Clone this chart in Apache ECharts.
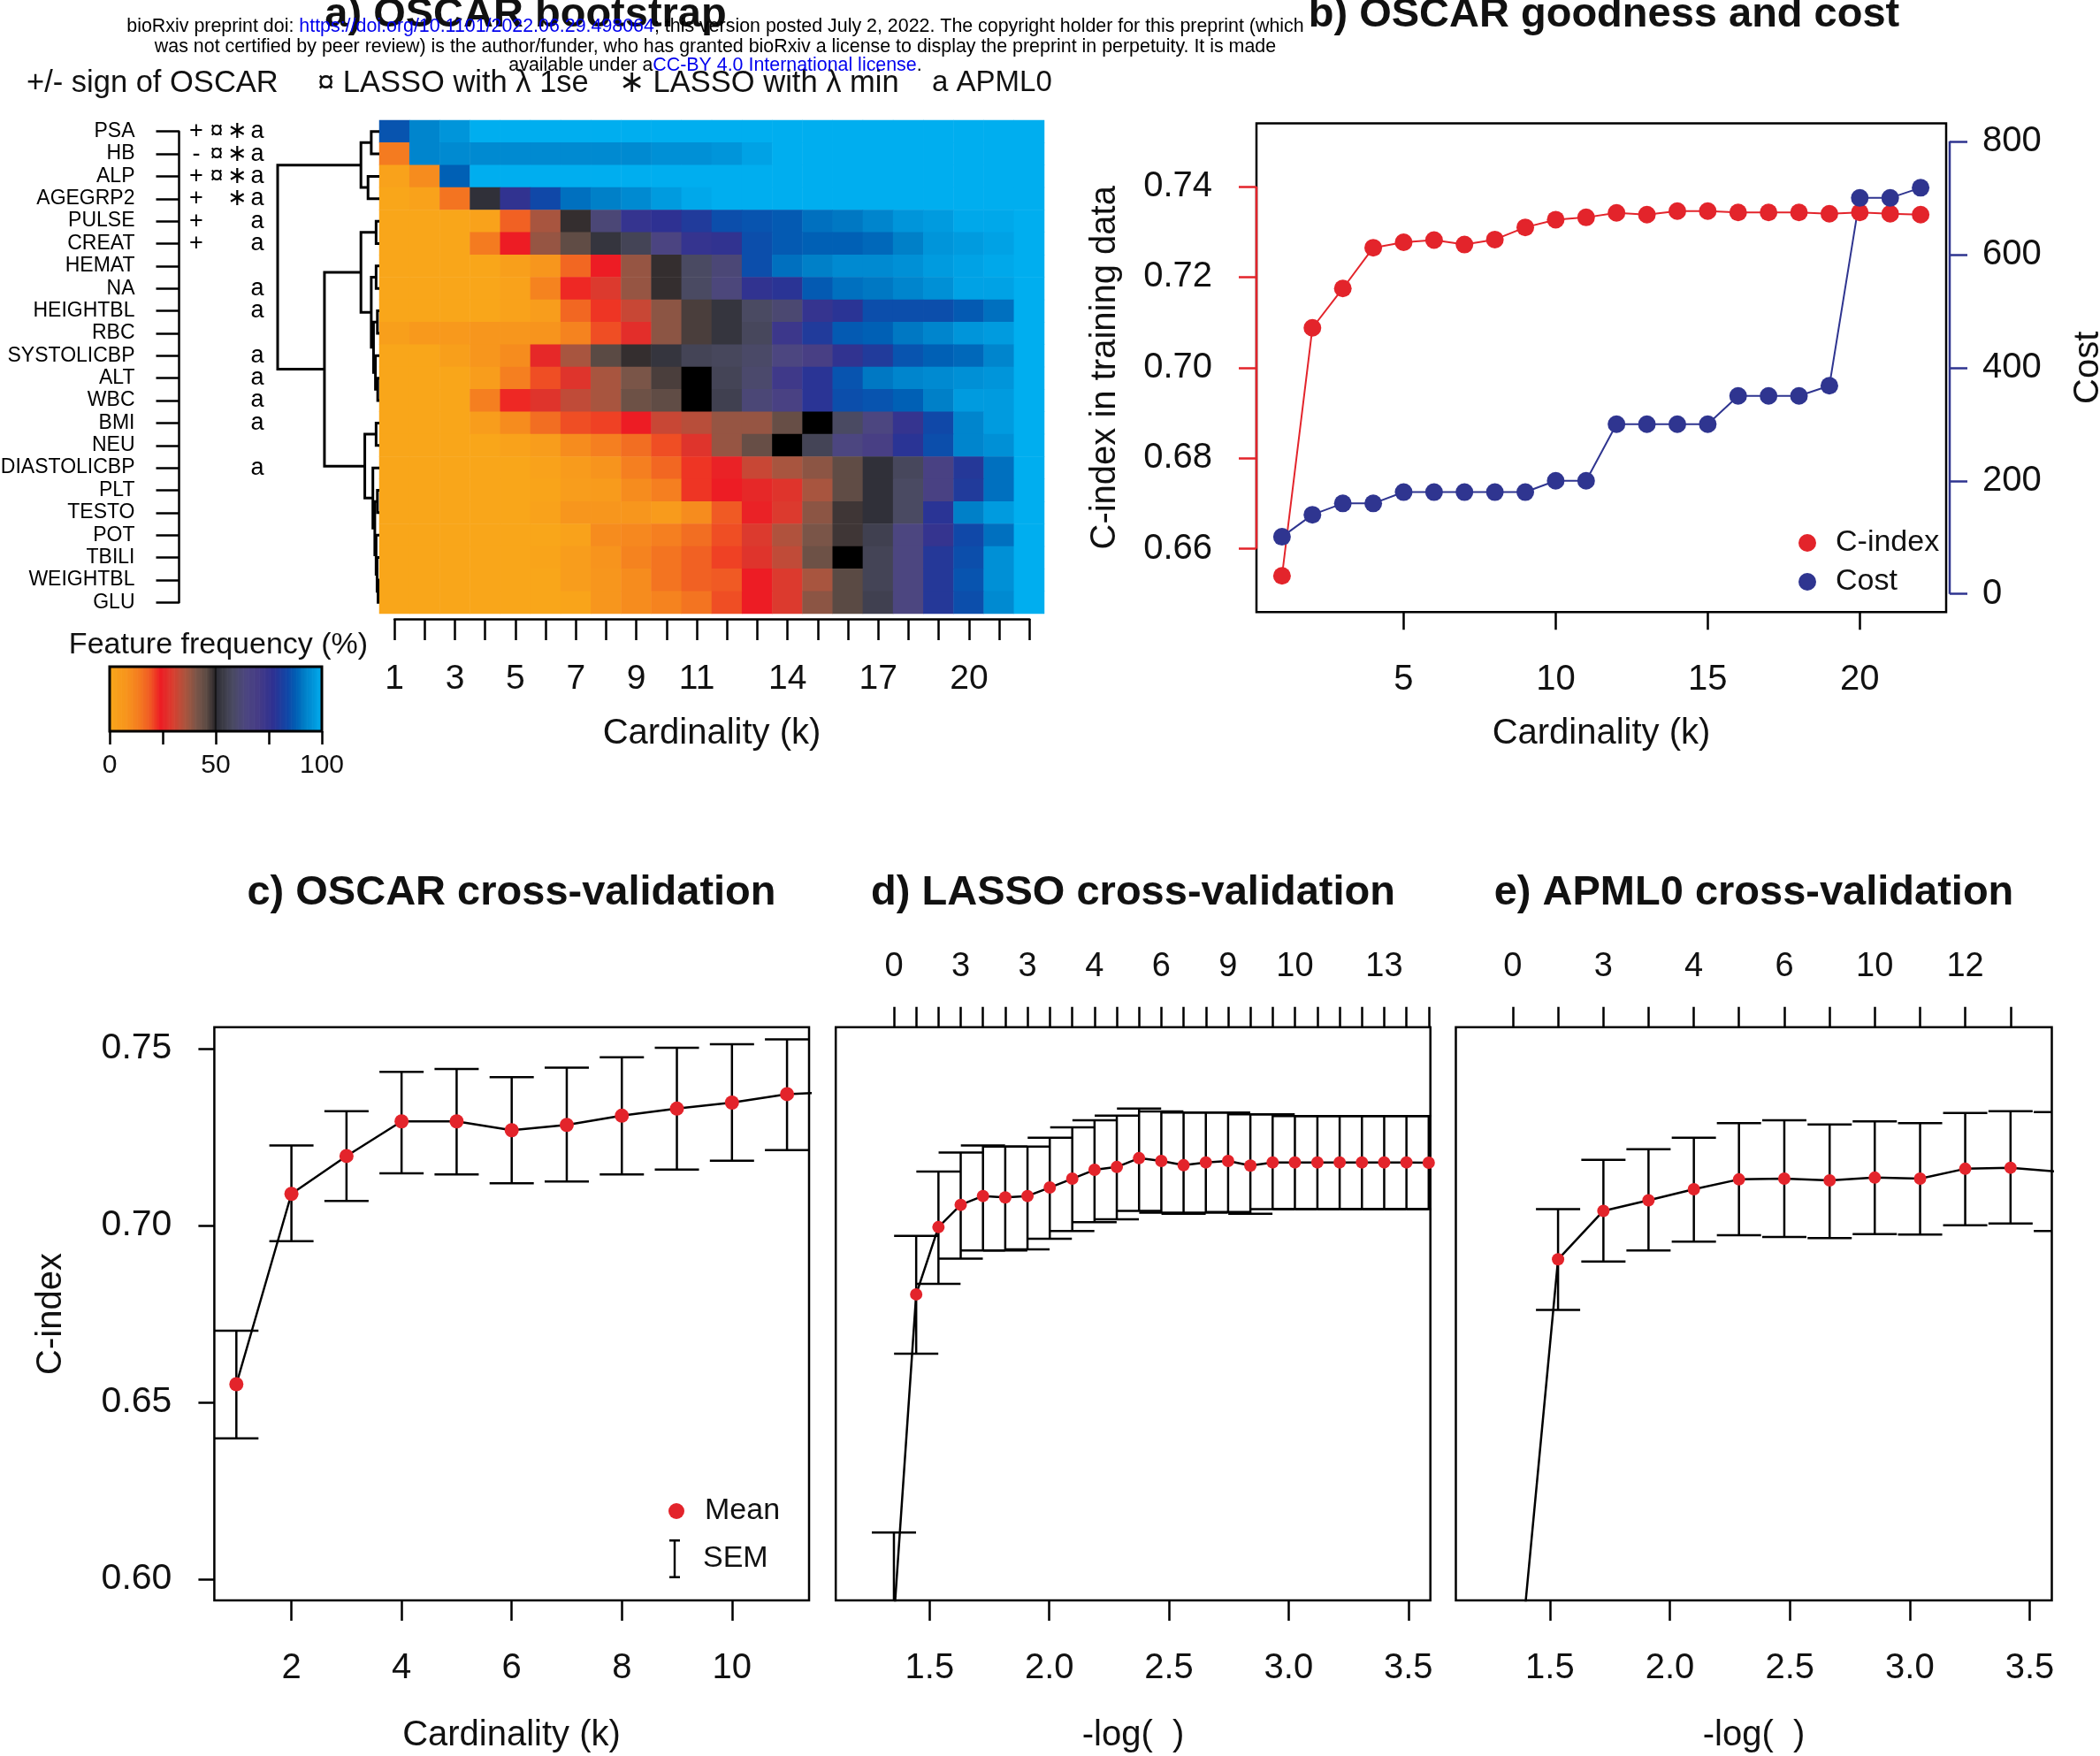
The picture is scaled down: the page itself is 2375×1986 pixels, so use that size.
<!DOCTYPE html>
<html>
<head>
<meta charset="utf-8">
<title>OSCAR figure</title>
<script src="https://cdn.jsdelivr.net/npm/echarts@6.0.0/dist/echarts.min.js"></script>
<style>
html,body{margin:0;padding:0;background:#ffffff;}
#chart{width:2375px;height:1986px;}
</style>
</head>
<body>
<div id="chart"></div>
<script>
// ======================= DATA =======================
// ---- Panel a: OSCAR bootstrap feature frequency (%) ----
const features = ['PSA','HB','ALP','AGEGRP2','PULSE','CREAT','HEMAT','NA','HEIGHTBL','RBC','SYSTOLICBP','ALT','WBC','BMI','NEU','DIASTOLICBP','PLT','TESTO','POT','TBILI','WEIGHTBL','GLU'];
const cardinality = [1,2,3,4,5,6,7,8,9,10,11,12,13,14,15,16,17,18,19,20,21,22];
const heatXTickLabels = [1,3,5,7,9,11,14,17,20];

const freq_PSA        = [86,93,96,100,100,100,100,100,100,100,100,100,100,100,100,100,100,100,100,100,100,100];
const freq_HB         = [14,93,94,94,94,94,94,94,94,95,95,96,98,100,100,100,100,100,100,100,100,100];
const freq_ALP        = [2,10,88,100,100,100,100,100,100,100,100,100,100,100,100,100,100,100,100,100,100,100];
const freq_AGEGRP2    = [0,2,15,51,76,84,90,92,94,97,99,100,100,100,100,100,100,100,100,100,100,100];
const freq_PULSE      = [0,0,0,2,18,36,49,62,75,77,80,85,86,87,90,91,93,96,97,99,99,100];
const freq_CREAT      = [0,0,0,14,24,38,45,52,56,65,75,76,85,87,88,88,89,92,96,97,98,100];
const freq_HEMAT      = [0,0,0,0,3,7,17,24,38,49,58,62,85,90,92,94,94,95,97,98,99,100];
const freq_NA         = [0,0,0,0,2,12,23,29,38,49,58,63,76,78,87,90,91,93,95,98,98,100];
const freq_HEIGHTBL   = [0,0,0,0,2,4,17,22,32,39,47,52,58,61,75,78,85,85,85,87,90,100];
const freq_RBC        = [3,6,6,7,7,8,12,20,27,39,47,52,57,73,80,87,88,91,93,96,97,100];
const freq_SYSTOLICBP = [0,0,3,7,10,26,36,46,49,52,56,57,59,64,68,76,80,86,88,89,93,100];
const freq_ALT        = [0,0,0,4,13,20,28,36,41,47,50,56,60,72,78,86,91,93,94,95,96,100];
const freq_WBC        = [0,0,0,13,23,28,33,36,43,45,50,55,62,67,78,85,86,88,92,97,97,100];
const freq_BMI        = [0,0,0,4,10,16,20,21,24,32,34,38,38,44,50,58,64,75,84,93,97,100];
const freq_NEU        = [0,0,0,0,2,4,10,13,16,20,28,38,44,50,56,64,68,78,85,93,95,100];
const freq_DIASTOLICBP= [0,0,0,0,0,2,5,8,13,17,22,25,32,36,39,45,51,57,67,79,90,100];
const freq_PLT        = [0,0,0,0,0,1,4,5,10,13,22,24,26,28,36,45,51,58,67,80,90,100];
const freq_TESTO      = [0,0,0,0,0,2,7,7,7,5,10,19,25,29,39,48,51,58,78,92,97,100];
const freq_POT        = [0,0,0,0,0,0,2,10,11,13,16,20,29,35,41,48,55,64,75,84,90,100];
const freq_TBILI      = [0,0,0,0,0,1,4,8,12,15,18,21,28,33,43,50,56,64,79,85,95,100];
const freq_WEIGHTBL   = [0,0,0,0,0,0,4,7,10,15,18,19,24,29,36,46,56,64,79,86,95,100];
const freq_GLU        = [0,0,0,0,0,0,1,7,10,12,15,20,24,29,39,46,55,64,79,85,94,100];
const freqRows = [freq_PSA,freq_HB,freq_ALP,freq_AGEGRP2,freq_PULSE,freq_CREAT,freq_HEMAT,freq_NA,freq_HEIGHTBL,freq_RBC,freq_SYSTOLICBP,freq_ALT,freq_WBC,freq_BMI,freq_NEU,freq_DIASTOLICBP,freq_PLT,freq_TESTO,freq_POT,freq_TBILI,freq_WEIGHTBL,freq_GLU];

// marker columns next to the feature names
const signOSCAR = ['+','-','+','+','+','+','','','','','','','','','','','','','','','',''];
const lasso1se  = [1,1,1,0,0,0,0,0,0,0,0,0,0,0,0,0,0,0,0,0,0,0];
const lassoMin  = [1,1,1,1,0,0,0,0,0,0,0,0,0,0,0,0,0,0,0,0,0,0];
const apml0     = [1,1,1,1,1,1,0,1,1,0,1,1,1,1,0,1,0,0,0,0,0,0];

// dendrogram (leaf = feature row index, h = merge height)
const dendroTree = {h:315, c:[
  {h:57, c:[{h:25, c:[0,1]}, {h:35, c:[2,3]}]},
  {h:170, c:[
    {h:57, c:[{h:10, c:[4,5]},
              {h:25, c:[{h:10, c:[6,7]},
                        {h:18, c:[{h:6, c:[8,9]}, {h:12, c:[10, {h:5, c:[11,12]}]}]}]}]},
    {h:45, c:[{h:10, c:[13,14]},
              {h:20, c:[15, {h:14, c:[{h:6, c:[16,17]}, {h:10, c:[18, {h:7, c:[19, {h:4, c:[20,21]}]}]}]}]}]}
  ]}
]};

const colorbarTicks  = [0,25,50,75,100];
const colorbarLabels = [0,50,100];

// ---- Panel b: OSCAR goodness and cost ----
const bK      = [1,2,3,4,5,6,7,8,9,10,11,12,13,14,15,16,17,18,19,20,21,22];
const bCindex = [0.654,0.7088,0.7175,0.7265,0.7277,0.7282,0.7272,0.7283,0.7310,0.7327,0.7332,0.7342,0.7338,0.7346,0.7346,0.7343,0.7343,0.7343,0.7340,0.7343,0.7340,0.7338];
const bCost   = [101,140,160,160,180,180,180,180,180,200,200,300,300,300,300,350,350,350,368,700,700,718];
const bXTicks    = [5,10,15,20];
const bCTicks    = [0.66,0.68,0.70,0.72,0.74];
const bCostTicks = [0,200,400,600,800];

// ---- Panel c: OSCAR cross-validation ----
const cK    = [1,2,3,4,5,6,7,8,9,10,11,12];
const cMean = [0.6551,0.7089,0.7196,0.7294,0.7294,0.7269,0.7284,0.7310,0.7330,0.7347,0.7371,0.7378];
const cLo   = [0.6398,0.6955,0.7069,0.7147,0.7144,0.7119,0.7124,0.7144,0.7158,0.7183,0.7213,0.7220];
const cHi   = [0.6702,0.7226,0.7323,0.7434,0.7442,0.7419,0.7446,0.7475,0.7502,0.7512,0.7526,0.7536];
const cXTicks  = [2,4,6,8,10];
const cvYTicks = [0.60,0.65,0.70,0.75];

// ---- Panel d: LASSO cross-validation ----
const dLogLambda = [1.351,1.444,1.537,1.630,1.723,1.816,1.909,2.002,2.096,2.189,2.282,2.375,2.468,2.561,2.654,2.747,2.840,2.933,3.026,3.120,3.213,3.306,3.399,3.492,3.585];
const dMean = [0.5888,0.6805,0.6995,0.7058,0.7083,0.7079,0.7083,0.7107,0.7132,0.7157,0.7165,0.7190,0.7182,0.7170,0.7178,0.7182,0.7169,0.7178,0.7178,0.7178,0.7178,0.7178,0.7178,0.7178,0.7177];
const dLo   = [0.5644,0.6637,0.6835,0.6906,0.6929,0.6929,0.6932,0.6962,0.6984,0.7009,0.7017,0.7041,0.7036,0.7033,0.7036,0.7038,0.7033,0.7046,0.7046,0.7046,0.7046,0.7046,0.7046,0.7046,0.7046];
const dHi   = [0.6132,0.6970,0.7152,0.7206,0.7226,0.7223,0.7223,0.7248,0.7277,0.7297,0.7310,0.7330,0.7322,0.7319,0.7319,0.7319,0.7314,0.7314,0.7309,0.7309,0.7309,0.7309,0.7309,0.7309,0.7309];
const dTopLabels = ['0','','','3','','','3','','','4','','','6','','','9','','','10','','','','13','',''];

// ---- Panel e: APML0 cross-validation ----
const eLogLambda = [1.345,1.534,1.723,1.911,2.100,2.288,2.477,2.666,2.854,3.043,3.231,3.420,3.609];
const eMean = [0.555,0.6904,0.7041,0.7071,0.7102,0.7130,0.7132,0.7127,0.7135,0.7132,0.7160,0.7163,0.7152];
const eLo   = [0.540,0.6761,0.6898,0.6929,0.6954,0.6972,0.6967,0.6964,0.6975,0.6974,0.7000,0.7005,0.6984];
const eHi   = [0.570,0.7046,0.7185,0.7215,0.7248,0.7289,0.7297,0.7285,0.7294,0.7289,0.7318,0.7323,0.7320];
const eTopLabels = ['0','','3','','4','','6','','10','','12','',''];

const logXTicks = [1.5,2.0,2.5,3.0,3.5];

// ======================= STYLE =======================
const FONT = "'Liberation Sans', Arial, Helvetica, sans-serif";
const RED = '#E3242B', NAVY = '#2F3590', INK = '#111111';
const cmapStops = [[0,'#F9A61A'],[0.08,'#F7941D'],[0.14,'#F47B20'],[0.19,'#F05A24'],[0.24,'#ED1C24'],
  [0.30,'#D84030'],[0.36,'#A8553F'],[0.41,'#7A5548'],[0.46,'#5A4A44'],[0.47,'#4A3E3C'],[0.495,'#2E2A2C'],
  [0.50,'#000000'],[0.505,'#2E2E36'],[0.53,'#3A3A44'],[0.58,'#4A4A62'],[0.64,'#4C4680'],[0.70,'#463C86'],
  [0.77,'#2E3192'],[0.84,'#1048A8'],[0.88,'#0060B5'],[0.92,'#0080C8'],[0.96,'#0095DA'],[1.0,'#00AEEF']];

function hexToRgb(h){return [parseInt(h.slice(1,3),16),parseInt(h.slice(3,5),16),parseInt(h.slice(5,7),16)];}
function cmap(t){
  t = Math.max(0, Math.min(1, t));
  for (let i = 1; i < cmapStops.length; i++) {
    if (t <= cmapStops[i][0]) {
      const t0 = cmapStops[i-1][0], t1 = cmapStops[i][0];
      const a = hexToRgb(cmapStops[i-1][1]), b = hexToRgb(cmapStops[i][1]);
      const f = (t - t0) / (t1 - t0);
      return 'rgb(' + a.map((v,k)=>Math.round(v + (b[k]-v)*f)).join(',') + ')';
    }
  }
  return cmapStops[cmapStops.length-1][1];
}
const heatColors = [];
for (let v = 0; v <= 100; v++) heatColors.push(cmap(v/100));

// ======================= BUILD =======================
const heatData = [];
freqRows.forEach((row, r) => row.forEach((v, c) => heatData.push([c, r, v])));

const dendroSegs = [];
function layoutTree(node){
  if (typeof node === 'number') return {pos: node, h: 0};
  const a = layoutTree(node.c[0]), b = layoutTree(node.c[1]);
  dendroSegs.push([a.h, a.pos, node.h, b.pos, b.h]);
  return {pos: (a.pos + b.pos) / 2, h: node.h};
}
layoutTree(dendroTree);

const symCells = [], symTexts = [];
features.forEach((f, r) => {
  if (signOSCAR[r]) { symCells.push([0, r]); symTexts.push(signOSCAR[r]); }
  if (lasso1se[r])  { symCells.push([1, r]); symTexts.push('\u00A4'); }
  if (lassoMin[r])  { symCells.push([2, r]); symTexts.push('\u2217'); }
  if (apml0[r])     { symCells.push([3, r]); symTexts.push('a'); }
});

const colorbarSteps = [];
for (let i = 0; i < 200; i++) colorbarSteps.push([i]);

function errRender(params, api){
  const x = api.value(0);
  const pLo = api.coord([x, api.value(1)]), pHi = api.coord([x, api.value(2)]);
  const cap = 25, st = {stroke:'#000', lineWidth:2.5};
  return {type:'group', children:[
    {type:'line', shape:{x1:pLo[0], y1:pLo[1], x2:pHi[0], y2:pHi[1]}, style:st},
    {type:'line', shape:{x1:pLo[0]-cap, y1:pLo[1], x2:pLo[0]+cap, y2:pLo[1]}, style:st},
    {type:'line', shape:{x1:pHi[0]-cap, y1:pHi[1], x2:pHi[0]+cap, y2:pHi[1]}, style:st}
  ]};
}
function lookupLabel(xs, labels){
  return function(v){ const i = xs.findIndex(x => Math.abs(x - v) < 1e-9); return i >= 0 ? labels[i] : ''; };
}

function txt(text, x, y, size, o){
  o = o || {};
  return {type:'text', x:x, y:y, rotation:o.rot || 0, z:o.z || 50, silent:true,
    style:{text:text, x:0, y:0, font:(o.bold ? 'bold ' : '') + size + 'px ' + FONT,
      fill:o.color || INK, textAlign:o.align || 'center', textVerticalAlign:'middle'}};
}
function wm(text, y){
  return {type:'text', x:809, y:y, z:100, silent:true,
    style:{text:text, x:0, y:0, textAlign:'center', textVerticalAlign:'middle',
      rich:{n:{fontSize:21.4, fontFamily:FONT, fill:'#000'}, l:{fontSize:21.4, fontFamily:FONT, fill:'#0000EE'}}}};
}

const boxGrid = (l,t,w,h) => ({left:l, top:t, width:w, height:h, show:true, borderColor:'#000', borderWidth:2.5, backgroundColor:'transparent', outerBoundsMode:'none', containLabel:false});
const plainGrid = (l,t,w,h) => ({left:l, top:t, width:w, height:h, show:false, outerBoundsMode:'none', containLabel:false});
const tickStyle = (c) => ({color:c || '#000', width:2.5});
const hidden = {show:false};

const B_XMIN = 0.16, B_XMAX = 22.84;

const option = {
  animation:false,
  backgroundColor:'#ffffff',
  textStyle:{fontFamily:FONT},
  grid:[
    plainGrid(429, 136, 752, 558),        // 0 heatmap
    plainGrid(314, 136, 115, 558),        // 1 dendrogram
    plainGrid(210.5, 148.7, 92, 532.6),   // 2 labels + markers
    plainGrid(446.1, 690, 718.2, 10),     // 3 heatmap cardinality axis
    plainGrid(124, 754, 240, 73),         // 4 colour bar
    boxGrid(1421, 139.4, 780, 552.8),     // 5 panel b
    boxGrid(242.4, 1161.8, 672.6, 648.2), // 6 panel c
    boxGrid(945.2, 1161.8, 672.5, 648.2), // 7 panel d
    boxGrid(1646.5, 1161.8, 674, 648.2)   // 8 panel e
  ],
  xAxis:[
    {type:'category', gridIndex:0, data:cardinality, show:false},
    {type:'value', gridIndex:1, min:0, max:315, inverse:true, show:false},
    {type:'category', gridIndex:2, data:['sign','l1se','lmin','apml0'], show:false},
    {type:'value', gridIndex:3, min:1, max:22, interval:1, position:'bottom',
      axisLine:{show:true, onZero:false, lineStyle:tickStyle()},
      axisTick:{show:true, length:24, lineStyle:tickStyle()},
      axisLabel:{formatter:v => heatXTickLabels.indexOf(v) >= 0 ? String(v) : '', fontSize:39, margin:49, color:INK, hideOverlap:false, showMinLabel:true, showMaxLabel:true},
      splitLine:hidden},
    {type:'value', gridIndex:4, min:0, max:100, interval:25, position:'bottom',
      axisLine:{show:false, onZero:false},
      axisTick:{show:true, length:15, lineStyle:tickStyle()},
      axisLabel:{formatter:v => colorbarLabels.indexOf(v) >= 0 ? String(v) : '', fontSize:30, margin:24, color:INK, hideOverlap:false, showMinLabel:true, showMaxLabel:true},
      splitLine:hidden},
    {type:'value', gridIndex:5, min:B_XMIN, max:B_XMAX, position:'bottom',
      axisLine:{show:false, onZero:false},
      axisTick:{show:true, customValues:bXTicks, length:20, lineStyle:tickStyle()},
      axisLabel:{customValues:bXTicks, fontSize:40, margin:57, color:INK, hideOverlap:false},
      splitLine:hidden},
    {type:'value', gridIndex:6, min:0.6, max:11.4, position:'bottom',
      axisLine:{show:false, onZero:false},
      axisTick:{show:true, customValues:cXTicks, length:23, lineStyle:tickStyle()},
      axisLabel:{customValues:cXTicks, fontSize:40, margin:57, color:INK, hideOverlap:false},
      splitLine:hidden},
    {type:'value', gridIndex:7, min:1.108, max:3.592, position:'bottom',
      axisLine:{show:false, onZero:false},
      axisTick:{show:true, customValues:logXTicks, length:23, lineStyle:tickStyle()},
      axisLabel:{customValues:logXTicks, formatter:v => v.toFixed(1), fontSize:40, margin:57, color:INK, hideOverlap:false},
      splitLine:hidden},
    {type:'value', gridIndex:7, min:1.108, max:3.592, position:'top',
      axisLine:{show:false, onZero:false},
      axisTick:{show:true, customValues:dLogLambda, length:23, lineStyle:tickStyle()},
      axisLabel:{customValues:dLogLambda, formatter:lookupLabel(dLogLambda, dTopLabels), fontSize:38, margin:49, color:INK, hideOverlap:false},
      splitLine:hidden},
    {type:'value', gridIndex:8, min:1.108, max:3.592, position:'bottom',
      axisLine:{show:false, onZero:false},
      axisTick:{show:true, customValues:logXTicks, length:23, lineStyle:tickStyle()},
      axisLabel:{customValues:logXTicks, formatter:v => v.toFixed(1), fontSize:40, margin:57, color:INK, hideOverlap:false},
      splitLine:hidden},
    {type:'value', gridIndex:8, min:1.108, max:3.592, position:'top',
      axisLine:{show:false, onZero:false},
      axisTick:{show:true, customValues:eLogLambda.filter(v => v <= 3.592), length:23, lineStyle:tickStyle()},
      axisLabel:{customValues:eLogLambda.filter(v => v <= 3.592), formatter:lookupLabel(eLogLambda, eTopLabels), fontSize:38, margin:49, color:INK, hideOverlap:false},
      splitLine:hidden}
  ],
  yAxis:[
    {type:'category', gridIndex:0, data:features, inverse:true, show:false},
    {type:'value', gridIndex:1, min:-0.5, max:21.5, inverse:true, show:false},
    {type:'category', gridIndex:2, data:features, inverse:true, boundaryGap:false, offset:8,
      axisLine:{show:true, onZero:false, lineStyle:tickStyle()},
      axisTick:{show:true, interval:0, length:26, lineStyle:tickStyle()},
      axisLabel:{interval:0, fontSize:23, margin:50, color:'#000'}},
    {type:'value', gridIndex:3, min:0, max:1, show:false},
    {type:'value', gridIndex:4, min:0, max:1, show:false},
    {type:'value', gridIndex:5, min:0.646, max:0.754, position:'left',
      axisLine:{show:false, onZero:false},
      axisTick:{show:true, customValues:bCTicks, length:20, lineStyle:tickStyle(RED)},
      axisLabel:{customValues:bCTicks, formatter:v => v.toFixed(2), fontSize:40, margin:50, color:INK, hideOverlap:false},
      splitLine:hidden},
    {type:'value', gridIndex:5, min:-32, max:832, position:'right', offset:4,
      axisLine:{show:false, onZero:false},
      axisTick:{show:true, customValues:bCostTicks, length:20, lineStyle:tickStyle(NAVY)},
      axisLabel:{customValues:bCostTicks, fontSize:40, margin:37, color:INK, hideOverlap:false},
      splitLine:hidden},
    {type:'value', gridIndex:6, min:0.594, max:0.756, position:'left',
      axisLine:{show:false, onZero:false},
      axisTick:{show:true, customValues:cvYTicks, length:18, lineStyle:tickStyle()},
      axisLabel:{customValues:cvYTicks, formatter:v => v.toFixed(2), fontSize:41, margin:48, color:INK, hideOverlap:false},
      splitLine:hidden},
    {type:'value', gridIndex:7, min:0.594, max:0.756, show:false},
    {type:'value', gridIndex:8, min:0.594, max:0.756, show:false}
  ],
  visualMap:[{type:'continuous', show:false, min:0, max:100, dimension:2, seriesIndex:0, inRange:{color:heatColors}}],
  legend:[
    {data:[{name:'C-index', icon:'circle', itemStyle:{color:RED}}, {name:'Cost', icon:'circle', itemStyle:{color:NAVY}}],
      orient:'vertical', left:2029, top:592, itemWidth:20, itemHeight:20, itemGap:10, selectedMode:false,
      textStyle:{fontSize:34, lineHeight:34, color:INK, padding:[0,0,0,17]}},
    {data:[{name:'Mean', icon:'circle', itemStyle:{color:RED}}],
      orient:'vertical', left:751, top:1687, itemWidth:18, itemHeight:18, selectedMode:false,
      textStyle:{fontSize:34, lineHeight:34, color:INK, padding:[0,0,0,18]}},
    {data:[{name:'SEM', icon:'path://M0,0L12,0L12,2.5L7.2,2.5L7.2,41.5L12,41.5L12,44L0,44L0,41.5L4.8,41.5L4.8,2.5L0,2.5Z', itemStyle:{color:'#000'}}],
      orient:'vertical', left:752, top:1736, itemWidth:12, itemHeight:44, selectedMode:false,
      textStyle:{fontSize:34, lineHeight:34, color:INK, padding:[0,0,0,21]}}
  ],
  series:[
    {type:'heatmap', name:'freq', xAxisIndex:0, yAxisIndex:0, data:heatData, itemStyle:{borderWidth:0}, emphasis:{disabled:true}},
    {type:'custom', name:'dendro', xAxisIndex:1, yAxisIndex:1, data:dendroSegs, silent:true,
      renderItem:(params, api) => {
        const h1 = api.value(0), y1 = api.value(1), h = api.value(2), y2 = api.value(3), h2 = api.value(4);
        return {type:'polyline', shape:{points:[api.coord([h1,y1]), api.coord([h,y1]), api.coord([h,y2]), api.coord([h2,y2])]},
          style:{stroke:'#000', lineWidth:3, fill:null}};
      }},
    {type:'custom', name:'markers', xAxisIndex:2, yAxisIndex:2, data:symCells, silent:true,
      renderItem:(params, api) => {
        const p = api.coord([api.value(0), api.value(1)]);
        return {type:'text', x:p[0], y:p[1], style:{text:symTexts[params.dataIndex], x:0, y:0,
          font:'27px ' + FONT, fill:'#000', textAlign:'center', textVerticalAlign:'middle'}};
      }},
    {type:'custom', name:'colorbar', xAxisIndex:4, yAxisIndex:4, data:colorbarSteps, silent:true,
      renderItem:(params, api) => {
        const i = api.value(0);
        const p0 = api.coord([i/2, 1]), p1 = api.coord([(i+1)/2, 0]);
        return {type:'rect', shape:{x:p0[0], y:p0[1], width:p1[0]-p0[0]+0.7, height:p1[1]-p0[1]},
          style:{fill:cmap((i+0.5)/200)}};
      }},
    {type:'custom', name:'colorbarBorder', xAxisIndex:4, yAxisIndex:4, data:[[0]], silent:true, z:3,
      renderItem:(params, api) => {
        const p0 = api.coord([colorbarTicks[0], 1]), p1 = api.coord([colorbarTicks[colorbarTicks.length-1], 0]);
        return {type:'rect', shape:{x:p0[0], y:p0[1], width:p1[0]-p0[0], height:p1[1]-p0[1]},
          style:{fill:'none', stroke:'#000', lineWidth:3}};
      }},
    {type:'line', name:'C-index', xAxisIndex:5, yAxisIndex:5, data:bK.map((k,i) => [k, bCindex[i]]),
      symbol:'circle', symbolSize:20, lineStyle:{color:RED, width:2}, itemStyle:{color:RED}, z:5},
    {type:'line', name:'Cost', xAxisIndex:5, yAxisIndex:6, data:bK.map((k,i) => [k, bCost[i]]),
      symbol:'circle', symbolSize:20, lineStyle:{color:NAVY, width:2}, itemStyle:{color:NAVY}, z:5},
    {type:'custom', name:'bLeftAxis', xAxisIndex:5, yAxisIndex:5, data:[[0]], silent:true, z:4,
      renderItem:(params, api) => {
        const p0 = api.coord([B_XMIN, bCTicks[0]]), p1 = api.coord([B_XMIN, bCTicks[bCTicks.length-1]]);
        return {type:'line', shape:{x1:p0[0], y1:p0[1], x2:p1[0], y2:p1[1]}, style:{stroke:RED, lineWidth:2.5}};
      }},
    {type:'custom', name:'bRightAxis', xAxisIndex:5, yAxisIndex:6, data:[[0]], silent:true, z:4,
      renderItem:(params, api) => {
        const p0 = api.coord([B_XMAX, bCostTicks[0]]), p1 = api.coord([B_XMAX, bCostTicks[bCostTicks.length-1]]);
        return {type:'line', shape:{x1:p0[0]+4, y1:p0[1], x2:p1[0]+4, y2:p1[1]}, style:{stroke:NAVY, lineWidth:2.5}};
      }},
    {type:'custom', name:'SEM', xAxisIndex:6, yAxisIndex:7, data:cK.map((k,i) => [k, cLo[i], cHi[i]]),
      renderItem:errRender, clip:true, itemStyle:{color:'#000'}, z:4, silent:true},
    {type:'line', name:'Mean', xAxisIndex:6, yAxisIndex:7, data:cK.map((k,i) => [k, cMean[i]]),
      symbol:'circle', symbolSize:16, lineStyle:{color:'#000', width:2.5}, itemStyle:{color:RED}, z:5, clip:true},
    {type:'custom', name:'SEM d', xAxisIndex:7, yAxisIndex:8, data:dLogLambda.map((x,i) => [x, dLo[i], dHi[i]]),
      renderItem:errRender, clip:true, z:4, silent:true},
    {type:'line', name:'Mean d', xAxisIndex:7, yAxisIndex:8, data:dLogLambda.map((x,i) => [x, dMean[i]]),
      symbol:'circle', symbolSize:14, lineStyle:{color:'#000', width:2.5}, itemStyle:{color:RED}, z:5, clip:true},
    {type:'custom', name:'SEM e', xAxisIndex:9, yAxisIndex:9, data:eLogLambda.map((x,i) => [x, eLo[i], eHi[i]]),
      renderItem:errRender, clip:true, z:4, silent:true},
    {type:'line', name:'Mean e', xAxisIndex:9, yAxisIndex:9, data:eLogLambda.map((x,i) => [x, eMean[i]]),
      symbol:'circle', symbolSize:14, lineStyle:{color:'#000', width:2.5}, itemStyle:{color:RED}, z:5, clip:true}
  ],
  graphic:{elements:[
    txt('a) OSCAR bootstrap', 594.5, 17, 47, {bold:true}),
    txt('b) OSCAR goodness and cost', 1814, 17, 47, {bold:true}),
    wm('{n|bioRxiv preprint doi: }{l|https://doi.org/10.1101/2022.06.29.498064}{n|; this version posted July 2, 2022. The copyright holder for this preprint (which}', 30),
    wm('{n|was not certified by peer review) is the author/funder, who has granted bioRxiv a license to display the preprint in perpetuity. It is made}', 53),
    wm('{n|available under a}{l|CC-BY 4.0 International license}{n|.}', 74),
    txt('+/- sign of OSCAR', 30, 94, 34.5, {align:'left'}),
    txt('\u00A4 LASSO with \u03BB 1se', 359, 94, 34.5, {align:'left'}),
    txt('\u2217 LASSO with \u03BB min', 700, 94, 34.5, {align:'left'}),
    txt('a APML0', 1054, 94, 33, {align:'left'}),
    txt('Feature frequency (%)', 247, 730, 34),
    txt('Cardinality (k)', 805, 830, 40),
    txt('C-index in training data', 1249.6, 415.8, 40, {rot:Math.PI/2}),
    txt('Cost', 2362, 415.8, 40, {rot:Math.PI/2}),
    txt('Cardinality (k)', 1811, 830, 40),
    txt('c) OSCAR cross-validation', 578.5, 1010, 47, {bold:true}),
    txt('d) LASSO cross-validation', 1281.5, 1010, 47, {bold:true}),
    txt('e) APML0 cross-validation', 1983.5, 1010, 47, {bold:true}),
    txt('C-index', 57.5, 1486, 40, {rot:Math.PI/2}),
    txt('Cardinality (k)', 578.5, 1963, 40),
    txt('-log(  )', 1281.5, 1963, 40),
    txt('-log(  )', 1983.5, 1963, 40)
  ]}
};

const chart = echarts.init(document.getElementById('chart'), null, {renderer:'canvas', width:2375, height:1986});
chart.setOption(option);
</script>
</body>
</html>
